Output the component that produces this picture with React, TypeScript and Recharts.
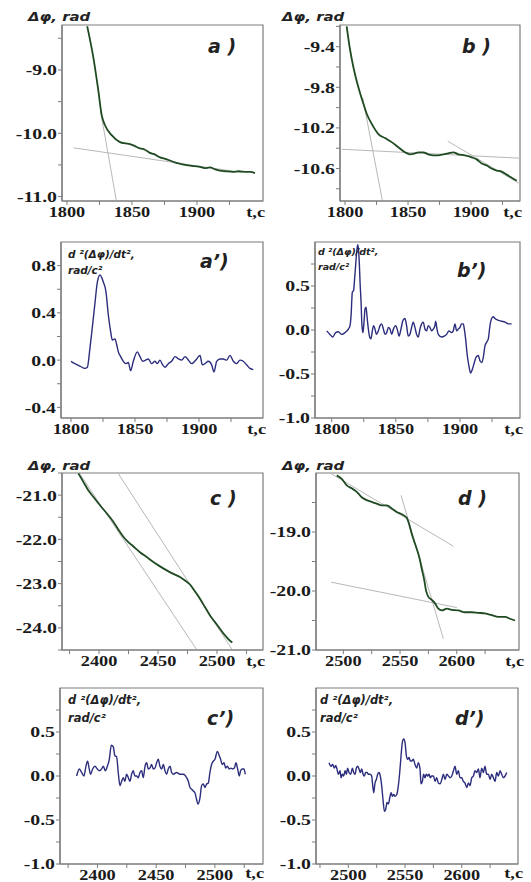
import React from "react";
import { LineChart, Line, XAxis, YAxis, ReferenceArea } from "recharts";

// ---- a) phase, first event ----
const aTime = [
  1815.6, 1820.2, 1824.1, 1826.7, 1829.2, 1834.4, 1840.8, 1845, 1848.5, 1852,
  1856.2, 1860, 1863.8, 1867, 1871.5, 1875, 1879.2, 1883, 1886.9, 1891,
  1894.6, 1898, 1902.3, 1906, 1910, 1914, 1917.7, 1922, 1927.7, 1932,
  1938.2, 1941, 1944.6,
];
const aPhase = [
  -8.31, -8.79, -9.32, -9.71, -9.87, -10.03, -10.14, -10.16, -10.17, -10.2,
  -10.24, -10.26, -10.31, -10.33, -10.38, -10.4, -10.43, -10.46, -10.48, -10.5,
  -10.51, -10.52, -10.53, -10.55, -10.54, -10.57, -10.59, -10.6, -10.61, -10.6,
  -10.61, -10.61, -10.63,
];
const aTanTime = [[1826, 1838.5], [1805, 1935]];
const aTanPhase = [[-9.67, -11.12], [-10.23, -10.62]];

// ---- b) phase, second event ----
const bTime = [
  1801.3, 1804, 1806.6, 1810.6, 1814.5, 1817.2, 1821.2, 1826.5, 1831.7, 1837,
  1842.3, 1847.6, 1851.6, 1855.6, 1858.2, 1862.2, 1866.1, 1870.1, 1874, 1878,
  1882, 1886, 1889.9, 1895.2, 1900.6, 1904.5, 1908.5, 1912.5, 1916.4, 1920.4,
  1924.4, 1928.3, 1932.3, 1936.3,
];
const bPhase = [
  -9.2, -9.43, -9.6, -9.8, -9.96, -10.06, -10.16, -10.26, -10.3, -10.34,
  -10.39, -10.44, -10.46, -10.45, -10.44, -10.44, -10.46, -10.47, -10.47, -10.46,
  -10.45, -10.44, -10.46, -10.47, -10.49, -10.51, -10.55, -10.57, -10.6, -10.62,
  -10.63, -10.66, -10.69, -10.72,
];
const bTanTime = [[1814, 1830], [1797.4, 1941.5], [1881.5, 1941.5]];
const bTanPhase = [[-9.9, -10.94], [-10.41, -10.5], [-10.33, -10.77]];

// ---- a') second derivative ----
const aDdTime = [
  1800, 1803.1, 1807, 1810.9, 1812.8, 1814.8, 1816.9, 1818.8, 1820.6, 1822.7,
  1825.3, 1827.3, 1829.2, 1831, 1832.3, 1834.4, 1835.7, 1837, 1838.8, 1840.9,
  1843, 1844.8, 1846.6, 1848.7, 1851.8, 1853.9, 1856, 1858.3, 1860.4, 1863,
  1865.6, 1867.4, 1869.5, 1871.6, 1873.4, 1876, 1878.6, 1881.3, 1883.9, 1886.5,
  1889.1, 1891.7, 1894.3, 1898.2, 1900.8, 1902.6, 1904.7, 1907.3, 1909.9, 1911.7,
  1913.8, 1916.4, 1919, 1921.6, 1924.2, 1926.8, 1929.4, 1932, 1934.6, 1937.2,
  1939.8, 1942.4,
];
const aDdVal = [
  -0.01, -0.03, -0.05, -0.07, -0.06, 0.1, 0.3, 0.49, 0.66, 0.72,
  0.66, 0.58, 0.38, 0.24, 0.17, 0.18, 0.13, 0.07, 0.03, -0.01,
  -0.03, -0.02, -0.09, -0.01, 0.07, 0.03, -0.01, 0, 0.01, -0.03,
  -0.01, -0.03, 0, -0.04, -0.06, -0.03, -0.01, 0.03, 0.01, 0,
  0.03, 0, -0.03, 0.01, 0.04, -0.04, -0.03, -0.01, -0.04, -0.1,
  -0.01, 0.01, 0.01, 0, 0.04, -0.01, -0.03, 0, -0.01, -0.04,
  -0.07, -0.08,
];

// ---- b') second derivative ----
const bDdTime = [
  1796.1, 1798.7, 1800.8, 1803.1, 1805.2, 1807.8, 1810.4, 1813, 1814.3, 1815.1,
  1816.1, 1817.1, 1817.7, 1818.7, 1819.5, 1820.3, 1820.8, 1821.6, 1822.1, 1822.9,
  1823.6, 1824.4, 1825.2, 1826, 1826.8, 1827.5, 1828.6, 1829.6, 1830.6, 1831.7,
  1832.7, 1833.8, 1834.8, 1836.4, 1837.7, 1839, 1840.3, 1841.6, 1842.9, 1844.2,
  1845.5, 1846.8, 1848.1, 1849.9, 1851.4, 1852.5, 1854, 1855.6, 1857.1, 1858.4,
  1859.7, 1861, 1862.3, 1863.6, 1864.9, 1866.2, 1867.5, 1868.8, 1870.1, 1871.4,
  1872.7, 1874, 1875.3, 1876.6, 1877.9, 1879.2, 1880.5, 1881, 1882.1, 1883.1,
  1885.7, 1887.8, 1889.6, 1891.4, 1893.5, 1894.8, 1896.1, 1897.4, 1898.7, 1900,
  1901.3, 1902.6, 1903.4, 1904.4, 1905.7, 1907, 1908.3, 1909.6, 1911.2, 1912.5,
  1914.3, 1915.6, 1916.9, 1918.2, 1919.5, 1920.8, 1922.1, 1923.4, 1924.7, 1926,
  1927.3, 1929.9, 1932.5, 1935.1, 1937.7, 1940.3,
];
const bDdVal = [
  -0.01, -0.05, -0.08, -0.03, -0.02, -0.05, -0.03, 0.01, 0.05, 0.16,
  0.43, 0.45, 0.55, 0.74, 0.89, 0.97, 0.93, 0.74, 0.55, 0.32,
  0.05, -0.03, 0.09, 0.24, 0.26, 0.16, 0.01, -0.08, -0.1, -0.01,
  0.05, 0.01, -0.05, -0.01, 0.05, 0.07, 0.01, -0.05, -0.03, 0.03,
  0.01, -0.05, 0.01, 0.05, -0.01, -0.07, 0.01, 0.11, 0.13, 0.05,
  -0.07, -0.05, 0.03, 0.09, 0.03, -0.05, -0.08, 0.01, 0.07, 0.09,
  0.01, -0.01, 0.05, 0.03, -0.01, 0.01, 0.05, 0.1, 0.01, -0.05,
  -0.08, -0.07, -0.05, -0.01, -0.03, -0.01, 0.07, -0.01, 0.01, 0.03,
  0.07, 0.07, 0.01, -0.1, -0.29, -0.41, -0.49, -0.45, -0.37, -0.31,
  -0.29, -0.35, -0.37, -0.31, -0.18, -0.14, -0.1, 0.05, 0.13, 0.15,
  0.13, 0.11, 0.1, 0.09, 0.07, 0.07,
];

// ---- c) phase, third event ----
const cTime = [
  2382.5, 2386.7, 2390.9, 2395.2, 2400.8, 2406.5, 2412.1, 2416.4, 2420.6, 2424.8,
  2429.1, 2434.7, 2440.4, 2446, 2451.7, 2457.4, 2463, 2468.6, 2472.9, 2477.1,
  2479.9, 2482.8, 2485.6, 2489.8, 2494.1, 2498.3, 2502.5, 2506.8, 2511, 2513,
];
const cPhase = [
  -20.51, -20.7, -20.89, -21.04, -21.23, -21.41, -21.6, -21.78, -21.94, -22.06,
  -22.16, -22.29, -22.4, -22.51, -22.61, -22.7, -22.78, -22.85, -22.93, -23.02,
  -23.12, -23.23, -23.34, -23.53, -23.72, -23.87, -24.02, -24.17, -24.29, -24.33,
];
const cTanTime = [[2380, 2485], [2416, 2515]];
const cTanPhase = [[-20.37, -24.58], [-20.5, -24.58]];

// ---- d) phase, fourth event ----
const dTime = [
  2494.2, 2498.6, 2503, 2507.4, 2511.8, 2516.2, 2520.6, 2525, 2529.4, 2533.9,
  2538.3, 2542.7, 2547.1, 2551.5, 2555.9, 2557.9, 2560.3, 2563.2, 2566.1, 2567.6,
  2569.1, 2571.4, 2572.9, 2575, 2578, 2580.9, 2583.8, 2586.8, 2591.2, 2595.6,
  2601.4, 2607.3, 2613.2, 2619, 2624.9, 2630.9, 2636.7, 2642.6, 2647, 2651.4,
];
const dPhase = [
  -18.04, -18.1, -18.21, -18.26, -18.32, -18.41, -18.46, -18.49, -18.52, -18.55,
  -18.55, -18.6, -18.66, -18.7, -18.76, -18.86, -19.03, -19.2, -19.37, -19.48,
  -19.62, -19.82, -19.99, -20.1, -20.15, -20.21, -20.3, -20.33, -20.3, -20.32,
  -20.33, -20.36, -20.36, -20.37, -20.38, -20.41, -20.44, -20.44, -20.47, -20.5,
];
const dTanTime = [[2488.3, 2597], [2550.9, 2588.2], [2489.2, 2600]];
const dTanPhase = [[-18.0, -19.24], [-18.38, -20.81], [-19.85, -20.28]];

// ---- c') second derivative ----
const cDdTime = [
  2382.3, 2384.5, 2386.5, 2388.5, 2390.2, 2391.6, 2393, 2394.2, 2395.9, 2397.9,
  2399.9, 2401.6, 2403.5, 2405, 2406.7, 2408.4, 2410.1, 2411.8, 2413.5, 2414.9,
  2416.3, 2417.7, 2419.2, 2420.6, 2422, 2423.4, 2424.8, 2426.3, 2427.7, 2429.1,
  2430.5, 2431.9, 2433.4, 2434.8, 2436.2, 2437.6, 2439, 2440.5, 2441.9, 2443.3,
  2444.7, 2446.1, 2447.6, 2449, 2450.4, 2451.8, 2453.2, 2454.7, 2456.1, 2457.5,
  2458.9, 2460.3, 2461.8, 2463.2, 2464.6, 2467.4, 2470.3, 2473.1, 2476, 2477.4,
  2478.8, 2480.2, 2481.6, 2483, 2484.5, 2485.6, 2487.3, 2488.7, 2490.1, 2491.6,
  2493, 2494.4, 2495.8, 2497.2, 2498.7, 2500.1, 2502.1, 2503.8, 2504.9, 2506.3,
  2507.8, 2509.2, 2510.6, 2512.3, 2513.7, 2515.1, 2516.6, 2518, 2519.4, 2520.8,
  2521.9, 2523.4, 2524.8, 2525.9,
];
const cDdVal = [
  0, 0.08, 0.04, 0, 0.11, 0.17, 0.08, 0.02, 0.08, 0.11,
  0.08, 0.06, 0.08, 0.11, 0.06, 0.11, 0.19, 0.35, 0.33, 0.23,
  0.22, 0.04, -0.11, -0.06, -0.02, -0.06, 0.02, -0.02, -0.06, 0.02,
  0.06, 0, 0, -0.02, 0.04, 0.06, -0.02, 0.11, 0.15, 0.08,
  0.09, 0.13, 0.08, 0.09, 0.15, 0.19, 0.11, 0.08, 0.13, 0.06,
  0.02, 0.08, 0.11, 0.04, 0.02, 0.04, 0.02, 0.02, -0.02, -0.06,
  -0.13, -0.15, -0.17, -0.19, -0.27, -0.32, -0.25, -0.11, -0.09, -0.13,
  -0.09, -0.08, 0.04, 0.13, 0.17, 0.19, 0.28, 0.23, 0.19, 0.13,
  0.15, 0.09, 0.11, 0.08, 0.09, 0.08, 0.09, 0.15, 0.08, 0,
  0.06, 0.08, 0.08, 0.02,
];

// ---- d') second derivative ----
const dDdTime = [
  2483, 2484.7, 2486.2, 2487.7, 2488.9, 2490, 2491.2, 2492.7, 2493.6, 2494.7,
  2495.9, 2497.1, 2498.3, 2499.4, 2500.6, 2502.1, 2503.6, 2504.7, 2505.9, 2507.1,
  2508.3, 2509.4, 2510.6, 2511.8, 2513, 2514.1, 2515.3, 2516.5, 2517.7, 2519.1,
  2520.6, 2521.5, 2522.4, 2523.5, 2524.7, 2525.9, 2527.1, 2528.2, 2529.4, 2530.6,
  2531.8, 2532.9, 2534.1, 2535.3, 2536.5, 2537.7, 2538.8, 2540, 2541.2, 2542.7,
  2544.1, 2545.3, 2546.5, 2547.6, 2548.8, 2550, 2551.2, 2552.4, 2553.5, 2554.7,
  2555.9, 2557.3, 2558.8, 2560.3, 2561.7, 2563.2, 2564.1, 2565.3, 2566.4, 2567.6,
  2568.8, 2570, 2571.2, 2572.3, 2573.5, 2575, 2576.5, 2577.9, 2579.4, 2580.9,
  2582.4, 2583.8, 2585.3, 2586.8, 2588.3, 2589.7, 2591.2, 2592.7, 2594.1, 2595.6,
  2597, 2598.5, 2600, 2601.4, 2602.9, 2604.4, 2605.9, 2607.3, 2608.8, 2610.3,
  2611.7, 2613.2, 2614.7, 2616.1, 2617.6, 2619.1, 2620.5, 2622, 2623.5, 2625,
  2626.4, 2627.9, 2629.4, 2630.8, 2632.3, 2633.8, 2635.2, 2636.7, 2638.2, 2639.7,
];
const dDdVal = [
  0.15, 0.11, 0.13, 0.09, 0.12, 0.08, 0.02, 0.06, -0.02, 0.02,
  0, 0.06, 0.02, 0.09, 0.04, 0.02, 0.09, 0.04, 0.02, 0.09,
  0.11, 0.08, 0.04, 0.08, 0.02, 0, 0.04, 0.04, 0.02, 0.02,
  0, -0.11, -0.19, -0.08, -0.04, 0.02, 0.04, 0, -0.11, -0.27,
  -0.4, -0.38, -0.3, -0.32, -0.25, -0.19, -0.23, -0.21, -0.23, -0.21,
  -0.11, 0.04, 0.23, 0.38, 0.42, 0.38, 0.23, 0.19, 0.21, 0.17,
  0.17, 0.19, 0.13, 0.09, 0.15, 0.08, -0.09, -0.06, 0.02, -0.02,
  0.02, 0, 0.02, -0.02, 0, 0, -0.06, -0.02, -0.08, -0.09,
  -0.04, 0.02, -0.04, 0.02, 0, -0.02, 0, 0.06, 0.11, 0.02,
  0.06, -0.02, -0.02, -0.06, -0.08, -0.13, -0.08, -0.11, -0.02, 0,
  0.06, 0.04, 0.08, -0.02, 0.09, 0.04, 0.11, 0.02, 0.02, -0.04,
  0.02, -0.02, -0.06, 0.04, 0, 0.06, 0.02, -0.02, 0, 0.04,
];

// ticks
const xTicksEarly = [1800, 1825, 1850, 1875, 1900, 1925];
const xLabelsEarly = [1800, 1850, 1900];
const xTicksC = [2375, 2400, 2425, 2450, 2475, 2500, 2525];
const xLabelsC = [2400, 2450, 2500];
const xTicksD = [2500, 2525, 2550, 2575, 2600, 2625];
const xTicksDd = [2475, 2500, 2525, 2550, 2575, 2600, 2625];
const xLabelsD = [2500, 2550, 2600];
const yTicksA = [-11, -10.5, -10, -9.5, -9, -8.5];
const yLabelsA = [-11, -10, -9];
const yTicksB = [-10.8, -10.6, -10.4, -10.2, -10, -9.8, -9.6, -9.4, -9.2];
const yLabelsB = [-10.6, -10.2, -9.8, -9.4];
const yTicksAd = [-0.4, -0.2, 0, 0.2, 0.4, 0.6, 0.8];
const yLabelsAd = [-0.4, 0, 0.4, 0.8];
const yTicksUnit = [-1, -0.75, -0.5, -0.25, 0, 0.25, 0.5, 0.75];
const yLabelsUnit = [-1, -0.5, 0, 0.5];
const yTicksC = [-24.5, -24, -23.5, -23, -22.5, -22, -21.5, -21, -20.5];
const yLabelsC = [-24, -23, -22, -21];
const yTicksD = [-21, -20.5, -20, -19.5, -19, -18.5];
const yLabelsD = [-21, -20, -19];

const FRAME = "#7c7c7c";
const GREEN = "#1f4a22";
const NAVY = "#2c2d7c";
const TAN = "#b8b8b8";
const SERIF = "'Liberation Serif', 'Times New Roman', 'DejaVu Serif', serif";

const rows = (t: number[], v: number[]) => t.map((x, i) => ({ t: x, v: v[i] }));
const has = (list: number[], v: number) => list.some((l) => Math.abs(l - v) < 1e-6);

const xTick = (labels: number[]) => (props: any) => {
  const { x, y, payload } = props;
  if (!has(labels, payload.value)) return <g />;
  return (
    <g transform={`translate(${x},${y}) scale(1.22,1)`}>
      <text dy="0.71em" textAnchor="middle" style={{ fontFamily: SERIF, fontWeight: 700, fontSize: 15 }} fill="#1a1a1a">
        {payload.value}
      </text>
    </g>
  );
};

const yTick = (labels: number[]) => (props: any) => {
  const { x, y, payload } = props;
  if (!has(labels, payload.value)) return <g />;
  return (
    <g transform={`translate(${x},${y}) scale(1.32,1)`}>
      <text dy="0.36em" textAnchor="end" style={{ fontFamily: SERIF, fontWeight: 700, fontSize: 15 }} fill="#1a1a1a">
        {payload.value.toFixed(1)}
      </text>
    </g>
  );
};

type Panel = {
  box: number[];
  xDomain: number[];
  yDomain: number[];
  xTicks: number[];
  xLabels: number[];
  yTicks: number[];
  yLabels: number[];
  time: number[];
  val: number[];
  tanTime: number[][];
  tanVal: number[][];
  color: string;
};

const panels: Panel[] = [
  { box: [62, 25, 263, 201], xDomain: [1796.2, 1950.8], yDomain: [-11.07, -8.29], xTicks: xTicksEarly, xLabels: xLabelsEarly, yTicks: yTicksA, yLabels: yLabelsA, time: aTime, val: aPhase, tanTime: aTanTime, tanVal: aTanPhase, color: GREEN },
  { box: [340, 25, 520, 201], xDomain: [1796, 1938.9], yDomain: [-10.92, -9.186], xTicks: xTicksEarly, xLabels: xLabelsEarly, yTicks: yTicksB, yLabels: yLabelsB, time: bTime, val: bPhase, tanTime: bTanTime, tanVal: bTanPhase, color: GREEN },
  { box: [61, 242, 263, 418], xDomain: [1792.2, 1950], yDomain: [-0.49, 1.0], xTicks: xTicksEarly, xLabels: xLabelsEarly, yTicks: yTicksAd, yLabels: yLabelsAd, time: aDdTime, val: aDdVal, tanTime: [], tanVal: [], color: NAVY },
  { box: [315, 242, 520, 418], xDomain: [1787, 1946.8], yDomain: [-1, 1], xTicks: xTicksEarly, xLabels: xLabelsEarly, yTicks: yTicksUnit, yLabels: yLabelsUnit, time: bDdTime, val: bDdVal, tanTime: [], tanVal: [], color: NAVY },
  { box: [62, 473, 263, 650], xDomain: [2368.6, 2539], yDomain: [-24.5, -20.5], xTicks: xTicksC, xLabels: xLabelsC, yTicks: yTicksC, yLabels: yLabelsC, time: cTime, val: cPhase, tanTime: cTanTime, tanVal: cTanPhase, color: GREEN },
  { box: [316, 473, 519, 650], xDomain: [2475.9, 2654.9], yDomain: [-21, -18], xTicks: xTicksD, xLabels: xLabelsD, yTicks: yTicksD, yLabels: yLabelsD, time: dTime, val: dPhase, tanTime: dTanTime, tanVal: dTanPhase, color: GREEN },
  { box: [60, 688, 263, 864], xDomain: [2368.1, 2541], yDomain: [-1, 1], xTicks: xTicksC, xLabels: xLabelsC, yTicks: yTicksUnit, yLabels: yLabelsUnit, time: cDdTime, val: cDdVal, tanTime: [], tanVal: [], color: NAVY },
  { box: [316, 688, 518, 864], xDomain: [2471.5, 2649.6], yDomain: [-1, 1], xTicks: xTicksDd, xLabels: xLabelsD, yTicks: yTicksUnit, yLabels: yLabelsUnit, time: dDdTime, val: dDdVal, tanTime: [], tanVal: [], color: NAVY },
];

const YW = 60;
const MT = 4;
const XH = 26;
const MR = 8;

function PanelChart({ p }: { p: Panel }) {
  const [l, t, r, b] = p.box;
  return (
    <div style={{ position: "absolute", left: l - YW, top: t - MT }}>
      <LineChart
        width={r - l + YW + MR}
        height={b - t + MT + XH}
        margin={{ top: MT, right: MR, bottom: 0, left: 0 }}
      >
        <XAxis
          type="number"
          dataKey="t"
          domain={p.xDomain}
          allowDataOverflow
          ticks={p.xTicks}
          interval={0}
          height={XH}
          tickSize={4}
          tickMargin={1}
          axisLine={{ stroke: FRAME, strokeWidth: 1.2 }}
          tickLine={{ stroke: FRAME }}
          tick={xTick(p.xLabels)}
        />
        <YAxis
          type="number"
          domain={p.yDomain}
          allowDataOverflow
          ticks={p.yTicks}
          interval={0}
          width={YW}
          tickSize={4}
          tickMargin={1}
          axisLine={{ stroke: FRAME, strokeWidth: 1.2 }}
          tickLine={{ stroke: FRAME }}
          tick={yTick(p.yLabels)}
        />
        <ReferenceArea
          x1={p.xDomain[0]}
          x2={p.xDomain[1]}
          y1={p.yDomain[0]}
          y2={p.yDomain[1]}
          fill="none"
          stroke={FRAME}
          strokeWidth={1.2}
          ifOverflow="visible"
        />
        {p.tanTime.map((tt, i) => (
          <Line
            key={i}
            data={rows(tt, p.tanVal[i])}
            dataKey="v"
            type="linear"
            stroke={TAN}
            strokeWidth={1}
            dot={false}
            activeDot={false}
            isAnimationActive={false}
          />
        ))}
        <Line
          data={rows(p.time, p.val)}
          dataKey="v"
          type="monotone"
          stroke={p.color}
          strokeWidth={p.color === GREEN ? 1.8 : 1.4}
          dot={false}
          activeDot={false}
          isAnimationActive={false}
        />
      </LineChart>
    </div>
  );
}

const sans = { fontFamily: "'DejaVu Sans', Verdana, sans-serif", fontWeight: 700, fontStyle: "italic" } as const;

// annotation text positions (x, baseline y)
const titles: [number, number, string][] = [
  [28, 21, "Δφ, rad"],
  [282, 21, "Δφ, rad"],
  [28, 470, "Δφ, rad"],
  [282, 470, "Δφ, rad"],
];
const letters: [number, number, string][] = [
  [208, 53, "a )"],
  [462, 53, "b )"],
  [200, 268, "a’)"],
  [457, 277, "b’)"],
  [210, 505, "c )"],
  [458, 505, "d )"],
  [207, 725, "c’)"],
  [455, 725, "d’)"],
];
const derivLabels: [number, number, number][] = [
  [68, 258, 10.5],
  [318, 255, 9.5],
  [68, 704, 11.5],
  [320, 704, 11.5],
];
const tcLabels: [number, number][] = [
  [265, 217], [522, 217], [266, 434], [523, 434],
  [265, 666], [524, 666], [264, 878], [523, 878],
];

export default function App() {
  return (
    <div style={{ position: "absolute", left: 0, top: 0, width: 531, height: 882, background: "#fff" }}>
      {panels.map((p, i) => (
        <PanelChart key={i} p={p} />
      ))}
      <svg width={531} height={882} style={{ position: "absolute", left: 0, top: 0, pointerEvents: "none" }}>
        {titles.map(([x, y, s], i) => (
          <text key={"t" + i} transform={`translate(${x},${y}) scale(1.3,1)`} style={{ ...sans, fontSize: 11.5 }} fill="#222">
            {s}
          </text>
        ))}
        {letters.map(([x, y, s], i) => (
          <text key={"l" + i} x={x} y={y} style={{ ...sans, fontSize: 19 }} fill="#222">
            {s}
          </text>
        ))}
        {derivLabels.map(([x, y, fs], i) => (
          <g key={"d" + i}>
            <text x={x} y={y} style={{ ...sans, fontSize: fs }} fill="#222">d ²(Δφ)/dt²,</text>
            <text x={x} y={y + fs * 1.55} style={{ ...sans, fontSize: fs }} fill="#222">rad/c²</text>
          </g>
        ))}
        {tcLabels.map(([x, y], i) => (
          <text key={"c" + i} transform={`translate(${x},${y}) scale(1.22,1)`} textAnchor="end" style={{ fontFamily: SERIF, fontWeight: 700, fontSize: 15 }} fill="#1a1a1a">
            t,c
          </text>
        ))}
      </svg>
    </div>
  );
}
